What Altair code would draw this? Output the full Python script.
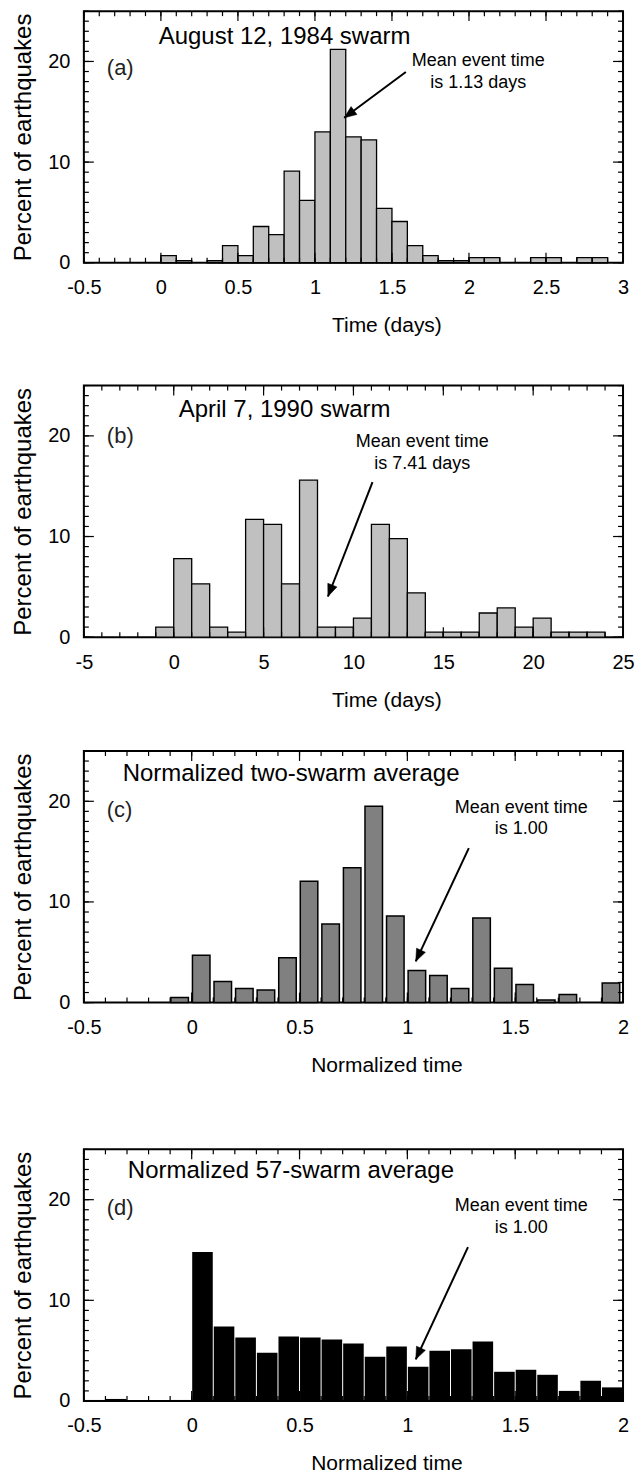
import math
import altair as alt
import numpy as np
import pandas as pd

W, H = 540, 252
YMAX = 25
FONT = "Liberation Sans"

# ---------------- data ----------------
# (a) August 12, 1984 swarm, bins of 0.1 day
a_start = [0.0, 0.1, 0.3, 0.4, 0.5, 0.6, 0.7, 0.8, 0.9, 1.0, 1.1, 1.2, 1.3,
           1.4, 1.5, 1.6, 1.7, 1.8, 1.9, 2.0, 2.1, 2.4, 2.5, 2.7, 2.8]
a_pct = [0.7, 0.2, 0.2, 1.7, 0.7, 3.6, 2.8, 9.1, 6.2, 13.0, 21.2, 12.5, 12.2,
         5.4, 4.1, 1.7, 0.7, 0.2, 0.2, 0.5, 0.5, 0.5, 0.5, 0.5, 0.5]

# (b) April 7, 1990 swarm, bins of 1 day
b_start = [-1, 0, 1, 2, 3, 4, 5, 6, 7, 8, 9, 10, 11, 12, 13, 14, 15, 16, 17,
           18, 19, 20, 21, 22, 23]
b_pct = [1.0, 7.8, 5.3, 1.0, 0.5, 11.7, 11.2, 5.3, 15.6, 1.0, 1.0, 1.9, 11.2,
         9.8, 4.4, 0.5, 0.5, 0.5, 2.4, 2.9, 1.0, 1.9, 0.5, 0.5, 0.5]

# (c) normalized two-swarm average, bins of 0.1
c_start = [-0.1, 0.0, 0.1, 0.2, 0.3, 0.4, 0.5, 0.6, 0.7, 0.8, 0.9, 1.0, 1.1,
           1.2, 1.3, 1.4, 1.5, 1.6, 1.7, 1.9]
c_pct = [0.5, 4.7, 2.1, 1.4, 1.25, 4.45, 12.05, 7.8, 13.4, 19.5, 8.6, 3.2, 2.7,
         1.4, 8.4, 3.4, 1.8, 0.25, 0.8, 1.95]

# (d) normalized 57-swarm average, bins of 0.1
d_start = [-0.5, -0.4, -0.3, -0.2, -0.1, 0.0, 0.1, 0.2, 0.3, 0.4, 0.5, 0.6,
           0.7, 0.8, 0.9, 1.0, 1.1, 1.2, 1.3, 1.4, 1.5, 1.6, 1.7, 1.8, 1.9]
d_pct = [0.1, 0.2, 0.05, 0.05, 0.1, 14.8, 7.4, 6.3, 4.8, 6.4, 6.3, 6.1, 5.7,
         4.4, 5.4, 3.4, 5.0, 5.15, 5.9, 2.9, 3.1, 2.6, 1.0, 2.0, 1.35]

# axis tick labels
a_xticks = [-0.5, 0, 0.5, 1, 1.5, 2, 2.5, 3]
b_xticks = [-5, 0, 5, 10, 15, 20, 25]
cd_xticks = [-0.5, 0, 0.5, 1, 1.5, 2]
y_ticks = [0, 10, 20]

# annotation texts / positions (data units)
a_title = ["August 12, 1984 swarm", -0.014, 22.4]
b_title = ["April 7, 1990 swarm", 0.28, 22.6]
c_title = ["Normalized two-swarm average", -0.32, 22.7]
d_title = ["Normalized 57-swarm average", -0.296, 22.8]

a_letter = ["(a)", -0.351, 19.3]
b_letter = ["(b)", -3.72, 20.0]
c_letter = ["(c)", -0.394, 19.1]
d_letter = ["(d)", -0.394, 19.2]

a_note = [["Mean event time", "is 1.13 days"], 2.06, [20.0, 17.85]]
b_note = [["Mean event time", "is 7.41 days"], 13.83, [19.35, 17.2]]
c_note = [["Mean event time", "is 1.00"], 1.528, [19.3, 17.2]]
d_note = [["Mean event time", "is 1.00"], 1.528, [19.35, 17.2]]

# arrows: x0, y0 (tail) -> x1, y1 (head)
a_arrow = [1.59, 18.95, 1.19, 14.4]
b_arrow = [11.06, 15.4, 8.58, 4.04]
c_arrow = [1.285, 15.35, 1.039, 4.1]
d_arrow = [1.281, 15.28, 1.039, 4.14]

HEAD = "M0,0L-0.4,1L0.4,1Z"


def panel(starts, pcts, bw, xmin, xmax, major, minor, fill, stroke, sw,
          inset_l_px, inset_r_px, title, letter, note, arrow, xticks, xtitle):
    pxu = W / (xmax - xmin)
    xs = alt.Scale(domain=[xmin, xmax], nice=False, zero=False)
    ys = alt.Scale(domain=[0, YMAX], nice=False, zero=False)
    xaxis = alt.Axis(
        values=xticks, ticks=False, tickSize=0, domain=False, grid=False,
        labelFont=FONT, labelFontSize=20, labelColor="black",
        labelPadding=15, labelFlush=False, labelOverlap=False,
        labelBound=False, labelExpr="'' + datum.value",
        title=xtitle, titleFont=FONT, titleFontSize=21,
        titleFontWeight="normal", titleColor="black",
        titleX=303, titleY=52, titleAlign="center")
    yaxis = alt.Axis(
        values=y_ticks, ticks=False, tickSize=0, domain=False, grid=False,
        labelFont=FONT, labelFontSize=20, labelColor="black",
        labelPadding=14, labelFlush=False, labelOverlap=False,
        title="Percent of earthquakes", titleFont=FONT, titleFontSize=24,
        titleFontWeight="normal", titleColor="black", titleX=-48)

    def X(f):
        return alt.X(f, scale=xs, axis=xaxis, title=xtitle)

    def Y(f):
        return alt.Y(f, scale=ys, axis=yaxis, title="Percent of earthquakes")

    bars = pd.DataFrame({
        "x0": [s + inset_l_px / pxu for s in starts],
        "x1": [s + bw - inset_r_px / pxu for s in starts],
        "pct": pcts,
        "base": [0.0] * len(starts),
    })

    bar_kw = dict(fill=fill, strokeWidth=sw, opacity=1)
    if stroke is not None:
        bar_kw["stroke"] = stroke
    else:
        bar_kw["strokeWidth"] = 0
    layers = [alt.Chart(bars).mark_rect(**bar_kw).encode(
        x=X("x0:Q"), x2="x1:Q", y=Y("pct:Q"), y2="base:Q")]

    minor_x = np.round(np.arange(xmin, xmax + minor / 2, minor), 6)
    major_x = np.round(np.arange(xmin, xmax + major / 2, major), 6)
    minor_y = np.arange(0, YMAX + 1, 1)
    major_y = np.arange(0, YMAX + 1, 10)
    tick_style = dict(color="black", strokeWidth=1.2)
    for vals, L in ((minor_x, 5), (major_x, 10)):
        df = pd.DataFrame({"v": vals})
        for y0, y1 in ((0, L), (H, H - L)):
            layers.append(alt.Chart(df).mark_rule(**tick_style).encode(
                x=X("v:Q"), y=alt.value(y0), y2=alt.value(y1)))
    for vals, L in ((minor_y, 5), (major_y, 10)):
        df = pd.DataFrame({"v": vals})
        for x0, x1 in ((0, L), (W, W - L)):
            layers.append(alt.Chart(df).mark_rule(**tick_style).encode(
                y=Y("v:Q"), x=alt.value(x0), x2=alt.value(x1)))

    tdf = pd.DataFrame({"t": [title[0]], "x": [title[1]], "y": [title[2]]})
    layers.append(alt.Chart(tdf).mark_text(
        align="left", baseline="middle", font=FONT, fontSize=24,
        color="black").encode(x=X("x:Q"), y=Y("y:Q"), text="t:N"))
    ldf = pd.DataFrame({"t": [letter[0]], "x": [letter[1]], "y": [letter[2]]})
    layers.append(alt.Chart(ldf).mark_text(
        align="left", baseline="middle", font=FONT, fontSize=22,
        color="#222222").encode(x=X("x:Q"), y=Y("y:Q"), text="t:N"))
    ndf = pd.DataFrame({"t": note[0], "x": [note[1]] * len(note[0]),
                        "y": note[2]})
    layers.append(alt.Chart(ndf).mark_text(
        align="center", baseline="middle", font=FONT, fontSize=18,
        color="black").encode(x=X("x:Q"), y=Y("y:Q"), text="t:N"))

    adf = pd.DataFrame({"x0": [arrow[0]], "y0": [arrow[1]],
                        "x1": [arrow[2]], "y1": [arrow[3]]})
    layers.append(alt.Chart(adf).mark_rule(color="black", strokeWidth=2).encode(
        x=X("x0:Q"), y=Y("y0:Q"), x2="x1:Q", y2="y1:Q"))
    dx = (arrow[2] - arrow[0]) * pxu
    dy = -(arrow[3] - arrow[1]) * H / YMAX
    ang = math.degrees(math.atan2(dx, -dy)) % 360
    layers.append(alt.Chart(adf).mark_point(
        shape=HEAD, filled=True, fill="black", stroke="black", strokeWidth=0.5,
        size=600, opacity=1, angle=ang).encode(x=X("x1:Q"), y=Y("y1:Q")))

    return alt.layer(*layers).properties(width=W, height=H)


pa = panel(a_start, a_pct, 0.1, -0.5, 3, 0.5, 0.1, "#c0c0c0", "black", 1.3,
           0, 0, a_title, a_letter, a_note, a_arrow, a_xticks, "Time (days)")
pb = panel(b_start, b_pct, 1, -5, 25, 5, 1, "#c0c0c0", "black", 1.3,
           0, 0, b_title, b_letter, b_note, b_arrow, b_xticks, "Time (days)")
pc = panel(c_start, c_pct, 0.1, -0.5, 2, 0.5, 0.1, "#808080", "black", 1.5,
           0.75, 3.3, c_title, c_letter, c_note, c_arrow, cd_xticks,
           "Normalized time")
pd_ = panel(d_start, d_pct, 0.1, -0.5, 2, 0.5, 0.1, "#000000", None, 0,
            0.5, 0.5, d_title, d_letter, d_note, d_arrow, cd_xticks,
            "Normalized time")

chart = alt.vconcat(
    alt.vconcat(pa, pb, spacing=47),
    alt.vconcat(pc, pd_, spacing=71),
    spacing=38,
).properties(
    padding={"left": 10, "top": 8, "right": 4, "bottom": 0},
    background="white",
).configure_view(stroke="black", strokeWidth=2)

chart.save("out.html", embed_options={"renderer": "svg", "actions": False})
